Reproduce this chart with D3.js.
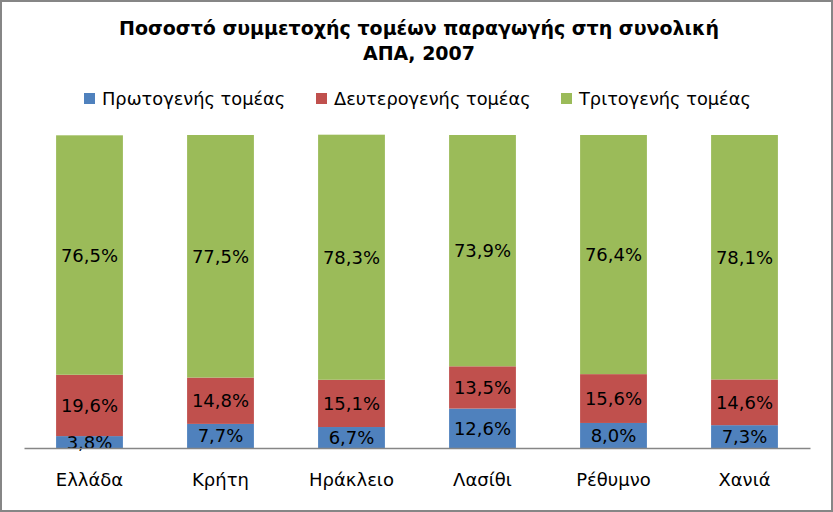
<html>
<meta charset="UTF-8">
<head>
<script src="https://cdn.jsdelivr.net/npm/d3@7"></script>
<style>
  body { margin: 0; background: #fff; }
</style>
</head>
<body>
<div id="chart"></div>
<script>
  // data
  var categories = ["Ελλάδα", "Κρήτη", "Ηράκλειο", "Λασίθι", "Ρέθυμνο", "Χανιά"];
  var series = ["Πρωτογενής τομέας", "Δευτερογενής τομέας", "Τριτογενής τομέας"];
  var primary = [3.8, 7.7, 6.7, 12.6, 8.0, 7.3];
  var secondary = [19.6, 14.8, 15.1, 13.5, 15.6, 14.6];
  var tertiary = [76.5, 77.5, 78.3, 73.9, 76.4, 78.1];
  var colors = ["#4F81BD", "#C0504D", "#9BBB59"];

  var width = 833, height = 512;
  var margin = { top: 135, bottom: 64, left: 24, right: 23 };
  var chartWidth = width - margin.left - margin.right;
  var chartHeight = height - margin.top - margin.bottom;

  var rows = categories.map((c, i) => ({ cat: c, values: [primary[i], secondary[i], tertiary[i]] }));
  var stack = d3.stack().keys([0, 1, 2]).value((d, k) => d.values[k]);
  var layers = stack(rows);

  var svg = d3.select("#chart").append("svg")
    .attr("width", width)
    .attr("height", height)
    .style("display", "block");

  // outer frame
  svg.append("rect")
    .attr("x", 1).attr("y", 1)
    .attr("width", width - 2).attr("height", height - 2)
    .attr("fill", "#fff")
    .attr("stroke", "#868686")
    .attr("stroke-width", 2);

  var g = svg.append("g").attr("transform", `translate(${margin.left},${margin.top})`);

  var x = d3.scaleBand().domain(categories).range([0, chartWidth]).paddingInner(0.49).paddingOuter(0.245);
  var y = d3.scaleLinear().domain([0, 100]).range([chartHeight, 0]);

  var layerG = g.selectAll(".layer")
    .data(layers)
    .enter().append("g")
    .attr("fill", (d, i) => colors[i]);

  layerG.selectAll("rect")
    .data(d => d)
    .enter().append("rect")
    .attr("x", d => x(d.data.cat))
    .attr("y", d => y(d[1]))
    .attr("width", x.bandwidth())
    .attr("height", d => y(d[0]) - y(d[1]));

  // data labels
  layerG.selectAll("text")
    .data(d => d)
    .enter().append("text")
    .attr("x", d => x(d.data.cat) + x.bandwidth() / 2)
    .attr("y", d => (y(d[0]) + y(d[1])) / 2)
    .attr("dy", "0.36em")
    .attr("text-anchor", "middle")
    .attr("fill", "#000")
    .attr("font-family", "DejaVu Sans, Verdana, sans-serif")
    .attr("font-size", 18)
    .text(d => (d[1] - d[0]).toFixed(1).replace(".", ",") + "%");

  // x axis
  var xAxis = d3.axisBottom(x).tickSize(0).tickPadding(25);
  var ax = g.append("g")
    .attr("transform", `translate(0,${chartHeight})`)
    .call(xAxis);
  ax.select(".domain").attr("stroke", "#868686").attr("stroke-width", 1.3);
  ax.selectAll("text")
    .attr("font-family", "DejaVu Sans, Verdana, sans-serif")
    .attr("font-size", 18)
    .attr("fill", "#000");

  // title
  var title = svg.append("text")
    .attr("text-anchor", "middle")
    .attr("font-family", "DejaVu Sans, Tahoma, sans-serif")
    .attr("font-weight", "bold")
    .attr("font-size", 19)
    .attr("fill", "#000");
  title.append("tspan").attr("x", 419).attr("y", 35).text("Ποσοστό συμμετοχής τομέων παραγωγής στη συνολική");
  title.append("tspan").attr("x", 419).attr("y", 60).text("ΑΠΑ, 2007");

  // legend
  var legendX = [84, 316, 561];
  var legend = svg.selectAll(".legend")
    .data(series)
    .enter().append("g")
    .attr("transform", (d, i) => `translate(${legendX[i]},93)`);
  legend.append("rect")
    .attr("width", 11).attr("height", 11)
    .attr("fill", (d, i) => colors[i]);
  legend.append("text")
    .attr("x", 18).attr("y", 6)
    .attr("dy", "0.36em")
    .attr("font-family", "DejaVu Sans, Verdana, sans-serif")
    .attr("font-size", 17.8)
    .attr("fill", "#000")
    .text(d => d);
</script>
</body>
</html>
